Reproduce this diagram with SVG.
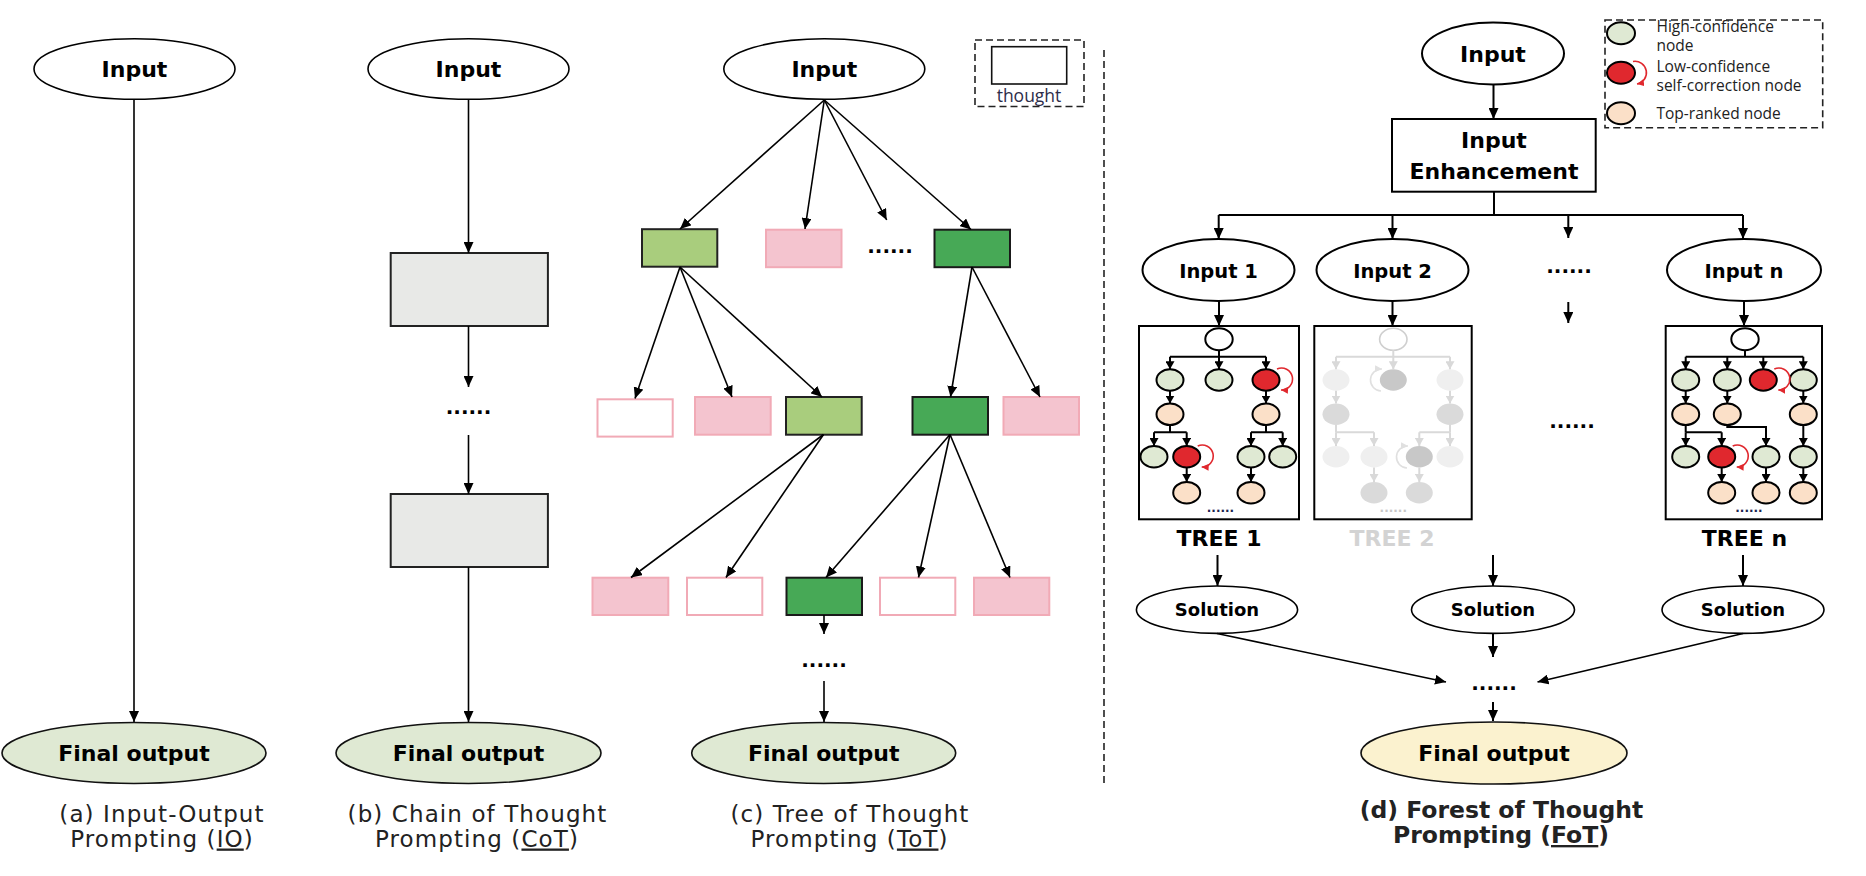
<svg xmlns="http://www.w3.org/2000/svg" width="1866" height="876" viewBox="0 0 1866 876">
<style>
.lb{font-family:"DejaVu Sans",Verdana,sans-serif;font-weight:bold;font-size:22px;text-anchor:middle;fill:#000}
.lbs{font-family:"DejaVu Sans",Verdana,sans-serif;font-weight:bold;font-size:19.5px;text-anchor:middle;fill:#000}
.sol{font-family:"DejaVu Sans",Verdana,sans-serif;font-weight:bold;font-size:18px;text-anchor:middle;fill:#000}
.dots{font-family:"DejaVu Sans",Verdana,sans-serif;font-weight:bold;font-size:20px;text-anchor:middle;fill:#000}
.tdots{font-family:"DejaVu Sans",Verdana,sans-serif;font-weight:bold;font-size:12px;text-anchor:middle;fill:#1c2450}
.cap{font-family:"DejaVu Sans",Verdana,sans-serif;font-size:23px;letter-spacing:1.1px;text-anchor:middle;fill:#222}
.capb{font-family:"DejaVu Sans",Verdana,sans-serif;font-weight:bold;font-size:23.5px;text-anchor:middle;fill:#222}
.leg{font-family:"Open Sans","Noto Sans",sans-serif;font-size:15.5px;fill:#222}
.el{fill:#fff;stroke:#000;stroke-width:1.6}
.fo{fill:#dfe9d3;stroke:#111;stroke-width:1.6}
.fy{fill:#fbf2cf;stroke:#111;stroke-width:1.6}
.cot{fill:#e8e9e7;stroke:#222;stroke-width:2}
.lg{fill:#a9cd7d;stroke:#222;stroke-width:2}
.dg{fill:#47a956;stroke:#1a1a1a;stroke-width:2}
.pk{fill:#f4c4cf;stroke:#f1aab6;stroke-width:2}
.wp{fill:#fff;stroke:#f1aab6;stroke-width:2}
.box{fill:#fff;stroke:#000;stroke-width:2}
.n{stroke:#000;stroke-width:2}
.nw{fill:#fff}
.ng{fill:#dfe9d3}
.nr{fill:#e0282e}
.np{fill:#fbe0c8}
.g1{fill:#efefef}
.g2{fill:#dadada}
.g3{fill:#c8c8c8}
.c{fill:none;stroke:#000;stroke-width:1.6}
.ct{fill:none;stroke:#000;stroke-width:2}
.cg{fill:none;stroke:#d9d9d9;stroke-width:2}
.lr{fill:none;stroke:#e0282e;stroke-width:1.6}
.lgr{fill:none;stroke:#e0e0e0;stroke-width:1.6}
.dash{fill:none;stroke:#222;stroke-width:1.6;stroke-dasharray:7 4}
</style>
<defs>
<marker id="a" viewBox="0 0 11 10" refX="11" refY="5" markerWidth="11" markerHeight="10" orient="auto" markerUnits="userSpaceOnUse"><path d="M0,0L11,5L0,10z" fill="#000"/></marker>
<marker id="as" viewBox="0 0 8 9" refX="8" refY="4.5" markerWidth="8" markerHeight="9" orient="auto" markerUnits="userSpaceOnUse"><path d="M0,0L8,4.5L0,9z" fill="#000"/></marker>
<marker id="ag" viewBox="0 0 8 9" refX="8" refY="4.5" markerWidth="8" markerHeight="9" orient="auto" markerUnits="userSpaceOnUse"><path d="M0,0L8,4.5L0,9z" fill="#d9d9d9"/></marker>
<marker id="ar" viewBox="0 0 7 7" refX="7" refY="3.5" markerWidth="7" markerHeight="7" orient="auto" markerUnits="userSpaceOnUse"><path d="M0,0L7,3.5L0,7z" fill="#e0282e"/></marker>
<marker id="agl" viewBox="0 0 7 7" refX="7" refY="3.5" markerWidth="7" markerHeight="7" orient="auto" markerUnits="userSpaceOnUse"><path d="M0,0L7,3.5L0,7z" fill="#e0e0e0"/></marker>
</defs>
<rect width="1866" height="876" fill="#fff"/>

<g id="separator"><path class="dash" d="M1104,50V786"/></g>

<!-- (a) IO -->
<g id="io-input"><ellipse class="el" cx="134.5" cy="69" rx="100.5" ry="30.3"/><text class="lb" x="134.5" y="77">Input</text></g>
<g id="io-output"><ellipse class="fo" cx="134" cy="753" rx="132" ry="30.5"/><text class="lb" x="134" y="761">Final output</text></g>
<g id="io-caption"><text class="cap" x="162" y="821.5">(a) Input-Output</text><text class="cap" x="162" y="846.5">Prompting (<tspan style="text-decoration:underline">IO</tspan>)</text></g>

<!-- (b) CoT -->
<g id="cot-input"><ellipse class="el" cx="468.5" cy="69" rx="100.5" ry="30.3"/><text class="lb" x="468.5" y="77">Input</text></g>
<g id="cot-step1"><rect class="cot" x="390.7" y="253" width="157.2" height="73"/></g>
<g id="cot-dots"><text class="dots" x="468.5" y="414">......</text></g>
<g id="cot-step2"><rect class="cot" x="390.7" y="494" width="157.2" height="73"/></g>
<g id="cot-output"><ellipse class="fo" cx="468.5" cy="753" rx="132.5" ry="30.5"/><text class="lb" x="468.5" y="761">Final output</text></g>
<g id="cot-caption"><text class="cap" x="477.5" y="821.5">(b) Chain of Thought</text><text class="cap" x="477" y="846.5">Prompting (<tspan style="text-decoration:underline">CoT</tspan>)</text></g>

<!-- (c) ToT -->
<g id="tot-input"><ellipse class="el" cx="824.3" cy="69" rx="100.5" ry="30.3"/><text class="lb" x="824.3" y="77">Input</text></g>
<g id="tot-legend"><rect class="dash" x="975" y="40" width="109" height="66.5"/><rect x="991.7" y="46.7" width="75" height="37.3" fill="#fff" stroke="#111" stroke-width="1.6"/><text class="leg" x="1029" y="101.5" text-anchor="middle" style="font-size:17.5px;fill:#2d2d4a">thought</text></g>
<g id="tot-a"><rect class="lg" x="642" y="229.2" width="75.3" height="37.5"/></g>
<g id="tot-b"><rect class="pk" x="766" y="229.7" width="75.5" height="37.5"/></g>
<g id="tot-dots1"><text class="dots" x="890" y="253">......</text></g>
<g id="tot-c"><rect class="dg" x="934.5" y="229.7" width="75.5" height="37.5"/></g>
<g id="tot-d"><rect class="wp" x="597.5" y="399.3" width="75.2" height="37.3"/></g>
<g id="tot-e"><rect class="pk" x="695" y="397" width="75.7" height="37.7"/></g>
<g id="tot-f"><rect class="lg" x="786" y="397" width="75.7" height="37.7"/></g>
<g id="tot-g"><rect class="dg" x="912.5" y="397" width="75.5" height="37.7"/></g>
<g id="tot-h"><rect class="pk" x="1003.5" y="397" width="75.5" height="37.7"/></g>
<g id="tot-i"><rect class="pk" x="592.5" y="577.7" width="75.8" height="37.3"/></g>
<g id="tot-j"><rect class="wp" x="687" y="577.7" width="75.3" height="37.3"/></g>
<g id="tot-k"><rect class="dg" x="786.5" y="577.7" width="75.5" height="37.3"/></g>
<g id="tot-l"><rect class="wp" x="880" y="577.7" width="75.3" height="37.3"/></g>
<g id="tot-m"><rect class="pk" x="974" y="577.7" width="75.3" height="37.3"/></g>
<g id="tot-dots2"><text class="dots" x="824" y="667">......</text></g>
<g id="tot-output"><ellipse class="fo" cx="823.7" cy="753" rx="132" ry="30.5"/><text class="lb" x="823.7" y="761">Final output</text></g>
<g id="tot-caption"><text class="cap" x="850" y="821.5">(c) Tree of Thought</text><text class="cap" x="849.5" y="846.5">Prompting (<tspan style="text-decoration:underline">ToT</tspan>)</text></g>

<!-- (d) FoT -->
<g id="fot-legend">
<rect class="dash" x="1605" y="20" width="217.7" height="107.7"/>
<ellipse class="n ng" cx="1621" cy="33.3" rx="14" ry="11"/>
<text class="leg" x="1656.5" y="31.5">High-confidence</text><text class="leg" x="1656.5" y="50.5">node</text>
<ellipse class="n nr" cx="1621" cy="72.7" rx="14" ry="11"/>
<text class="leg" x="1656.5" y="71.5">Low-confidence</text><text class="leg" x="1656.5" y="90.5">self-correction node</text>
<ellipse class="n np" cx="1621" cy="113.3" rx="14" ry="11"/>
<text class="leg" x="1656.5" y="118.5">Top-ranked node</text>
</g>
<g id="fot-input"><ellipse class="el" cx="1493" cy="53.5" rx="71" ry="31" style="stroke-width:2"/><text class="lb" x="1493" y="62">Input</text></g>
<g id="fot-enh"><rect class="box" x="1392" y="119" width="203.7" height="72.7"/><text class="lb" x="1494" y="148">Input</text><text class="lb" x="1494" y="179">Enhancement</text></g>
<g id="fot-input1"><ellipse class="el" cx="1218.5" cy="270" rx="76" ry="31" style="stroke-width:2"/><text class="lbs" x="1218.5" y="278">Input 1</text></g>
<g id="fot-input2"><ellipse class="el" cx="1392.5" cy="270" rx="76" ry="31" style="stroke-width:2"/><text class="lbs" x="1392.5" y="278">Input 2</text></g>
<g id="fot-dots-in"><text class="dots" x="1569" y="273">......</text></g>
<g id="fot-inputn"><ellipse class="el" cx="1744" cy="270" rx="77" ry="31" style="stroke-width:2"/><text class="lbs" x="1744" y="278">Input n</text></g>
<g id="fot-dots-mid"><text class="dots" x="1572" y="428">......</text></g>

<g id="tree1">
<rect class="box" x="1139" y="326" width="160" height="193.3"/>
<ellipse class="n nw" cx="1219" cy="339.3" rx="13.7" ry="11"/>
<ellipse class="n ng" cx="1170" cy="380" rx="13.5" ry="10.7"/>
<ellipse class="n ng" cx="1219" cy="380" rx="13.5" ry="10.7"/>
<ellipse class="n nr" cx="1266" cy="380" rx="13.5" ry="10.7"/>
<ellipse class="n np" cx="1170" cy="414.3" rx="13.5" ry="10.7"/>
<ellipse class="n np" cx="1266" cy="414.3" rx="13.5" ry="10.7"/>
<ellipse class="n ng" cx="1154" cy="456.7" rx="13.5" ry="10.7"/>
<ellipse class="n nr" cx="1186.7" cy="456.7" rx="13.5" ry="10.7"/>
<ellipse class="n ng" cx="1251" cy="456.7" rx="13.5" ry="10.7"/>
<ellipse class="n ng" cx="1282.7" cy="456.7" rx="13.5" ry="10.7"/>
<ellipse class="n np" cx="1186.7" cy="492.7" rx="13.5" ry="10.7"/>
<ellipse class="n np" cx="1251" cy="492.7" rx="13.5" ry="10.7"/>
<text class="tdots" x="1220.5" y="512">......</text>
<text class="lb" x="1219" y="545.5">TREE 1</text>
</g>

<g id="tree2">
<rect class="box" x="1314.3" y="326" width="157.4" height="193.3"/>
<ellipse cx="1393.3" cy="339.3" rx="13.7" ry="11" fill="#fff" stroke="#cfcfcf" stroke-width="1.6"/>
<ellipse class="g1" cx="1336" cy="380" rx="13.5" ry="10.7"/>
<ellipse class="g3" cx="1393.3" cy="380" rx="13.5" ry="10.7"/>
<ellipse class="g1" cx="1450" cy="380" rx="13.5" ry="10.7"/>
<ellipse class="g2" cx="1336" cy="414.3" rx="13.5" ry="10.7"/>
<ellipse class="g2" cx="1450" cy="414.3" rx="13.5" ry="10.7"/>
<ellipse class="g1" cx="1336" cy="456.7" rx="13.5" ry="10.7"/>
<ellipse class="g1" cx="1374" cy="456.7" rx="13.5" ry="10.7"/>
<ellipse class="g3" cx="1419.3" cy="456.7" rx="13.5" ry="10.7"/>
<ellipse class="g1" cx="1450" cy="456.7" rx="13.5" ry="10.7"/>
<ellipse class="g2" cx="1374" cy="492.7" rx="13.5" ry="10.7"/>
<ellipse class="g2" cx="1419.3" cy="492.7" rx="13.5" ry="10.7"/>
<text class="tdots" x="1393.3" y="512" style="fill:#c8c8c8">......</text>
<text class="lb" x="1392" y="545.5" style="fill:#d3d3d3">TREE 2</text>
</g>

<g id="treen">
<rect class="box" x="1665.7" y="326" width="156.3" height="193.3"/>
<ellipse class="n nw" cx="1745" cy="339.3" rx="13.7" ry="11"/>
<ellipse class="n ng" cx="1685.7" cy="380" rx="13.5" ry="10.7"/>
<ellipse class="n ng" cx="1727.3" cy="380" rx="13.5" ry="10.7"/>
<ellipse class="n nr" cx="1763.3" cy="380" rx="13.5" ry="10.7"/>
<ellipse class="n ng" cx="1803.3" cy="380" rx="13.5" ry="10.7"/>
<ellipse class="n np" cx="1685.7" cy="414.3" rx="13.5" ry="10.7"/>
<ellipse class="n np" cx="1727.3" cy="414.3" rx="13.5" ry="10.7"/>
<ellipse class="n np" cx="1803.3" cy="414.3" rx="13.5" ry="10.7"/>
<ellipse class="n ng" cx="1685.7" cy="456.7" rx="13.5" ry="10.7"/>
<ellipse class="n nr" cx="1721.7" cy="456.7" rx="13.5" ry="10.7"/>
<ellipse class="n ng" cx="1766" cy="456.7" rx="13.5" ry="10.7"/>
<ellipse class="n ng" cx="1803.3" cy="456.7" rx="13.5" ry="10.7"/>
<ellipse class="n np" cx="1721.7" cy="492.7" rx="13.5" ry="10.7"/>
<ellipse class="n np" cx="1766" cy="492.7" rx="13.5" ry="10.7"/>
<ellipse class="n np" cx="1803.3" cy="492.7" rx="13.5" ry="10.7"/>
<text class="tdots" x="1749" y="512">......</text>
<text class="lb" x="1744.5" y="545.5">TREE n</text>
</g>

<g id="sol1"><ellipse class="el" cx="1217" cy="609.7" rx="80.6" ry="23.7"/><text class="sol" x="1217" y="616">Solution</text></g>
<g id="sol2"><ellipse class="el" cx="1493" cy="609.7" rx="81.5" ry="23.7"/><text class="sol" x="1493" y="616">Solution</text></g>
<g id="soln"><ellipse class="el" cx="1743" cy="609.7" rx="81" ry="23.7"/><text class="sol" x="1743" y="616">Solution</text></g>
<g id="fot-dots-sol"><text class="dots" x="1494" y="690">......</text></g>
<g id="fot-output"><ellipse class="fy" cx="1494" cy="753" rx="133" ry="31"/><text class="lb" x="1494" y="761">Final output</text></g>
<g id="fot-caption"><text class="capb" x="1501.5" y="818">(d) Forest of Thought</text><text class="capb" x="1501" y="843">Prompting (<tspan style="text-decoration:underline">FoT</tspan>)</text></g>

<g id="connectors">
<!-- IO -->
<path class="c" marker-end="url(#a)" d="M134,99.5V722"/>
<!-- CoT -->
<path class="c" marker-end="url(#a)" d="M468.5,99.5V253"/>
<path class="c" marker-end="url(#a)" d="M468.5,326V387"/>
<path class="c" marker-end="url(#a)" d="M468.5,435V494"/>
<path class="c" marker-end="url(#a)" d="M468.5,567V722"/>
<!-- ToT -->
<path class="c" marker-end="url(#a)" d="M824.3,100L680,229"/>
<path class="c" marker-end="url(#a)" d="M824.3,100L805,229"/>
<path class="c" marker-end="url(#a)" d="M824.3,100L886.7,220"/>
<path class="c" marker-end="url(#a)" d="M824.3,100L971,229.5"/>
<path class="c" marker-end="url(#a)" d="M680,267L635,398.5"/>
<path class="c" marker-end="url(#a)" d="M680,267L732,397"/>
<path class="c" marker-end="url(#a)" d="M680,267L822,397"/>
<path class="c" marker-end="url(#a)" d="M972,267L950.5,397"/>
<path class="c" marker-end="url(#a)" d="M972,267L1040,397"/>
<path class="c" marker-end="url(#a)" d="M823.5,434.5L631,577.5"/>
<path class="c" marker-end="url(#a)" d="M823.5,434.5L726,577.5"/>
<path class="c" marker-end="url(#a)" d="M950,434.5L826,577.5"/>
<path class="c" marker-end="url(#a)" d="M950,434.5L918.5,577.5"/>
<path class="c" marker-end="url(#a)" d="M950,434.5L1010,577.5"/>
<path class="c" marker-end="url(#a)" d="M824,615V634"/>
<path class="c" marker-end="url(#a)" d="M824,681V722"/>
<!-- FoT -->
<path class="ct" marker-end="url(#a)" d="M1493.5,84.5V119"/>
<path class="ct" d="M1494,192V215M1218.7,215H1743"/>
<path class="ct" marker-end="url(#a)" d="M1218.7,215V239"/>
<path class="ct" marker-end="url(#a)" d="M1392.5,215V239"/>
<path class="ct" marker-end="url(#a)" d="M1568.3,215V238"/>
<path class="ct" marker-end="url(#a)" d="M1743,215V239"/>
<path class="ct" marker-end="url(#a)" d="M1219,301V326"/>
<path class="ct" marker-end="url(#a)" d="M1392.5,301V326"/>
<path class="ct" marker-end="url(#a)" d="M1568.3,302V323"/>
<path class="ct" marker-end="url(#a)" d="M1744,301V326"/>
<path class="ct" marker-end="url(#a)" d="M1217.5,555V586"/>
<path class="ct" marker-end="url(#a)" d="M1493,555V586"/>
<path class="ct" marker-end="url(#a)" d="M1743,555V586"/>
<path class="ct" marker-end="url(#a)" d="M1493,633.5V657"/>
<path class="c" marker-end="url(#a)" d="M1217,633.5L1446,682"/>
<path class="c" marker-end="url(#a)" d="M1743,633.5L1537.5,682"/>
<path class="ct" marker-end="url(#a)" d="M1493,702V721"/>
<!-- Tree 1 -->
<path class="ct" d="M1219,350.3V356.7M1170,356.7H1266"/>
<path class="ct" marker-end="url(#as)" d="M1170,356.7V369.3"/>
<path class="ct" marker-end="url(#as)" d="M1219,356.7V369.3"/>
<path class="ct" marker-end="url(#as)" d="M1266,356.7V369.3"/>
<path class="ct" marker-end="url(#as)" d="M1170,390.7V403.6"/>
<path class="ct" marker-end="url(#as)" d="M1266,390.7V403.6"/>
<path class="ct" d="M1170,425V432.3M1154,432.3H1186.7M1266,425V432.3M1251,432.3H1282.7"/>
<path class="ct" marker-end="url(#as)" d="M1154,432.3V446"/>
<path class="ct" marker-end="url(#as)" d="M1186.7,432.3V446"/>
<path class="ct" marker-end="url(#as)" d="M1251,432.3V446"/>
<path class="ct" marker-end="url(#as)" d="M1282.7,432.3V446"/>
<path class="ct" marker-end="url(#as)" d="M1186.7,467.4V482"/>
<path class="ct" marker-end="url(#as)" d="M1251,467.4V482"/>
<path class="lr" marker-end="url(#ar)" d="M1277,369A11,11 0 1 1 1281,390"/>
<path class="lr" marker-end="url(#ar)" d="M1197.7,446A11,11 0 1 1 1201.7,467"/>
<!-- Tree 2 -->
<path class="cg" d="M1393.3,350.3V356.7M1336,356.7H1450"/>
<path class="cg" marker-end="url(#ag)" d="M1336,356.7V369.3"/>
<path class="cg" marker-end="url(#ag)" d="M1393.3,356.7V369.3"/>
<path class="cg" marker-end="url(#ag)" d="M1450,356.7V369.3"/>
<path class="cg" marker-end="url(#ag)" d="M1336,390.7V403.6"/>
<path class="cg" marker-end="url(#ag)" d="M1450,390.7V403.6"/>
<path class="cg" d="M1336,425V432.3M1336,432.3H1374M1450,425V432.3M1419.3,432.3H1450"/>
<path class="cg" marker-end="url(#ag)" d="M1336,432.3V446"/>
<path class="cg" marker-end="url(#ag)" d="M1374,432.3V446"/>
<path class="cg" marker-end="url(#ag)" d="M1419.3,432.3V446"/>
<path class="cg" marker-end="url(#ag)" d="M1450,432.3V446"/>
<path class="cg" marker-end="url(#ag)" d="M1374,467.4V482"/>
<path class="cg" marker-end="url(#ag)" d="M1419.3,467.4V482"/>
<path class="lgr" marker-end="url(#agl)" d="M1381,391A11,11 0 1 1 1382,369"/>
<path class="lgr" marker-end="url(#agl)" d="M1407,468A11,11 0 1 1 1408,446"/>
<!-- Tree n -->
<path class="ct" d="M1745,350.3V356.7M1685.7,356.7H1803.3"/>
<path class="ct" marker-end="url(#as)" d="M1685.7,356.7V369.3"/>
<path class="ct" marker-end="url(#as)" d="M1727.3,356.7V369.3"/>
<path class="ct" marker-end="url(#as)" d="M1763.3,356.7V369.3"/>
<path class="ct" marker-end="url(#as)" d="M1803.3,356.7V369.3"/>
<path class="ct" marker-end="url(#as)" d="M1685.7,390.7V403.6"/>
<path class="ct" marker-end="url(#as)" d="M1727.3,390.7V403.6"/>
<path class="ct" marker-end="url(#as)" d="M1803.3,390.7V403.6"/>
<path class="ct" d="M1685.7,425V432.3M1685.7,432.3H1721.7"/>
<path class="ct" marker-end="url(#as)" d="M1685.7,432.3V446"/>
<path class="ct" marker-end="url(#as)" d="M1721.7,432.3V446"/>
<path class="ct" marker-end="url(#as)" d="M1727.3,425V427H1766V446"/>
<path class="ct" marker-end="url(#as)" d="M1803.3,425V446"/>
<path class="ct" marker-end="url(#as)" d="M1721.7,467.4V482"/>
<path class="ct" marker-end="url(#as)" d="M1766,467.4V482"/>
<path class="ct" marker-end="url(#as)" d="M1803.3,467.4V482"/>
<path class="lr" marker-end="url(#ar)" d="M1774.3,369A11,11 0 1 1 1778.3,390"/>
<path class="lr" marker-end="url(#ar)" d="M1732.7,446A11,11 0 1 1 1736.7,467"/>
<!-- legend loop -->
<path class="lr" marker-end="url(#ar)" d="M1633,61.5A11,11 0 1 1 1637,84"/>
</g>
</svg>
